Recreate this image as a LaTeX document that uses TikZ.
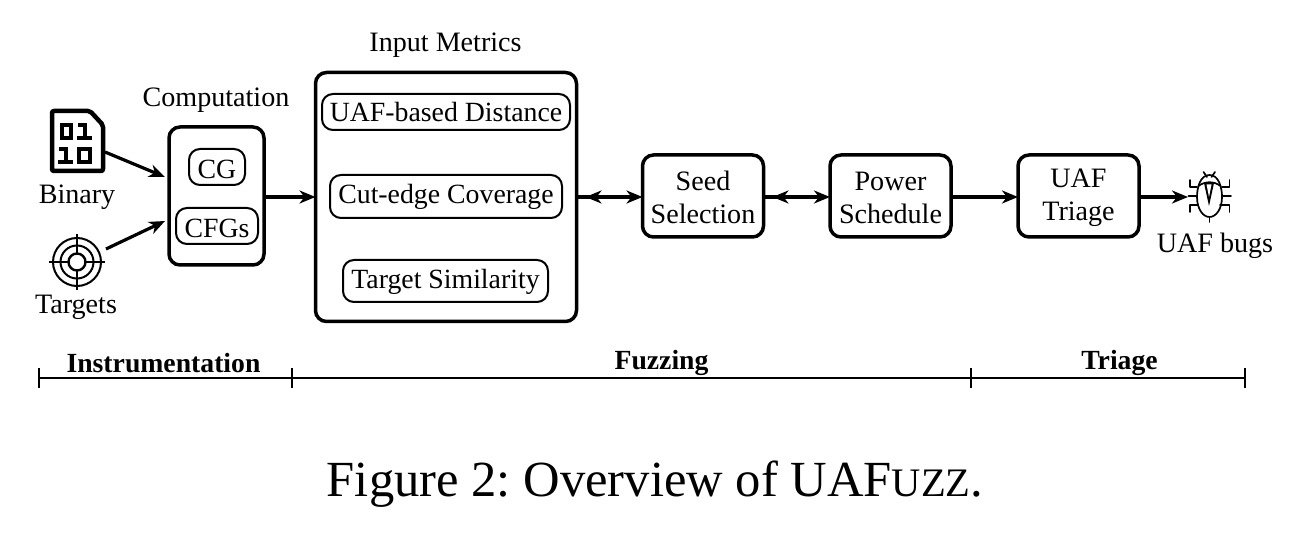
\documentclass[tikz,border=0pt]{standalone}
\usepackage{fontspec}
\setmainfont{Liberation Serif}
\usetikzlibrary{arrows.meta,decorations.markings}
\newcommand{\downby}[2]{\raisebox{-#1pt}[\height][\depth]{#2}}
\tikzset{
  x=1pt,y=-1pt,
  every node/.style={inner sep=0pt,outer sep=0pt,font=\fontsize{28.1}{33}\selectfont,align=center,text=black},
  sz/.style 2 args={minimum width=#1pt,minimum height=#2pt},
  bigbox/.style={draw=black,line width=3.5pt,rounded corners=11pt,fill=white},
  smallbox/.style={draw=black,line width=2pt,rounded corners=11pt,font=\fontsize{27.8}{33}\selectfont},
  flow/.style={line width=3.2pt,-{Stealth[length=16pt,width=13pt,inset=5pt]}},
  twoway/.style={flow,postaction={decorate},decoration={markings,mark=at position 9pt with {\arrowreversed[line width=3.2pt]{Stealth[length=16pt,width=13pt,inset=5pt]}}}},
  timeline/.style={line width=2.6pt},
  phase/.style={font=\fontsize{27.7}{33}\selectfont\bfseries},
  iconline/.style={line width=1.7pt,line cap=round,line join=round},
}
\begin{document}
\begin{tikzpicture}
\useasboundingbox (0,0) rectangle (1300,534);
\fill[white] (0,0) rectangle (1300,534);

% boxes
\node[bigbox,sz={95}{138}] (comp) at (216.5,196) {};
\node[smallbox,sz={56}{36}] (cg) at (217,167) {\downby{2}{CG}};
\node[smallbox,sz={82}{36}] (cfg) at (217,226) {\downby{2}{CFGs}};
\node (comptitle) at (216,100) {Computation};

\node[bigbox,sz={261}{249}] (metrics) at (446,197) {};
\node[smallbox,sz={248}{36}] (uaf) at (446,112) {UAF-based Distance};
\node[smallbox,sz={232}{43}] (cut) at (446,196.5) {Cut-edge Coverage};
\node[smallbox,sz={205}{42}] (sim) at (445.5,281) {\downby{1}{Target Similarity}};
\node (mtitle) at (445.5,45) {Input Metrics};

\node[bigbox,sz={121}{82}] (seed) at (703,196) {\downby{1}{\parbox{118pt}{\centering Seed\\Selection}}};
\node[bigbox,sz={121}{82}] (power) at (890.5,196) {\downby{1.5}{\parbox{118pt}{\centering Power\\Schedule}}};
\node[bigbox,sz={121}{82}] (triage) at (1078.5,196) {\downby{2}{\parbox{118pt}{\centering UAF\\Triage}}};

% binary icon
\node[sz={55}{64}] (binary) at (77.5,141) {};
\draw[line width=4.5pt,line join=round,rounded corners=2pt] (52,111) -- (90,111) -- (103,125) -- (103,171) -- (52,171) -- cycle;
\draw[line width=4pt] (62,125) rectangle (71,138);
\draw[line width=4pt] (78,125) -- (85,125) -- (85,138);
\draw[line width=4pt] (77,138) -- (92,138);
\draw[line width=4pt] (79,149) rectangle (90,162);
\draw[line width=4pt] (59,149) -- (66,149) -- (66,162);
\draw[line width=4pt] (58,162) -- (73,162);
\node (binlabel) at (77,197) {Binary};

% target icon
\node[circle,minimum size=48pt] (target) at (77,262) {};
\draw[line width=2pt] (77,262) circle (24);
\draw[line width=2pt] (77,262) circle (16.5);
\draw[line width=2.4pt] (77,262) circle (8.5);
\draw[line width=2pt] (77,234) -- (77,253.5) (77,270.5) -- (77,290);
\draw[line width=2pt] (49,262) -- (68.5,262) (85.5,262) -- (105,262);
\node (tarlabel) at (76,307) {Targets};

% bug icon
\node[sz={42}{50}] (bug) at (1209,198) {};
\draw[iconline] (1209.5,175) .. controls (1200,175) and (1197,188) .. (1197,197)
  .. controls (1197,209) and (1203,217) .. (1209.5,217)
  .. controls (1216,217) and (1222,209) .. (1222,197)
  .. controls (1222,188) and (1219,175) .. cycle;
\draw[iconline] (1198.5,186) .. controls (1205,181) and (1214,181) .. (1220.5,186);
\fill (1204,183) -- (1214,183) -- (1209,206) -- cycle;
\fill[white] (1206.5,184.5) -- (1211.5,184.5) -- (1209,197) -- cycle;
\draw[iconline] (1203.5,172) -- (1207,177) (1215,172) -- (1211.5,177);
\draw[iconline] (1190,180) -- (1190,187) -- (1197,187);
\draw[iconline] (1188.5,196) -- (1197,196);
\draw[iconline] (1190,212) -- (1190,205) -- (1198,205);
\draw[iconline] (1229.5,180) -- (1229.5,187) -- (1222,187);
\draw[iconline] (1231,196) -- (1222,196);
\draw[iconline] (1229.5,212) -- (1229.5,205) -- (1220,205);
\draw[iconline] (1209.5,217) -- (1209.5,222);
\node (buglabel) at (1215,246) {UAF bugs};

% connectors
\coordinate (binout) at (105,152);
\coordinate (tarout) at (106,249);
\coordinate (compinA) at (165,177);
\coordinate (compinB) at (165,221);
\draw[flow] (binout) -- (compinA);
\draw[flow] (tarout) -- (compinB);
\draw[flow] (comp.east |- 0,197) -- (metrics.west |- 0,197);
\draw[twoway] (metrics.east |- 0,197) -- (seed.west |- 0,197);
\draw[twoway] (seed.east |- 0,197) -- (power.west |- 0,197);
\draw[flow] (power.east |- 0,197) -- (triage.west |- 0,197);
\draw[flow] (triage.east |- 0,197) -- (bug.west |- 0,197);

% timeline
\coordinate (t0) at (38.5,378);
\coordinate (t1) at (291.5,378);
\coordinate (t2) at (971,378);
\coordinate (t3) at (1245,378);
\draw[timeline] (t0) -- (t3);
\foreach \t in {t0,t1,t2,t3} \draw[line width=2pt] ([yshift=10pt]\t) -- ([yshift=-10pt]\t);
\node[phase] (pinstr) at (163.5,363) {Instrumentation};
\node[phase] (pfuzz) at (661.5,363) {Fuzzing};
\node[phase] (ptri) at (1119.5,363) {Triage};

% caption
\node[font=\fontsize{50.6}{55}\selectfont] (caption) at (655,484) {\frenchspacing Figure 2: Overview of UAF{\fontsize{40.5}{44}\selectfont UZZ}.};
\end{tikzpicture}
\end{document}
